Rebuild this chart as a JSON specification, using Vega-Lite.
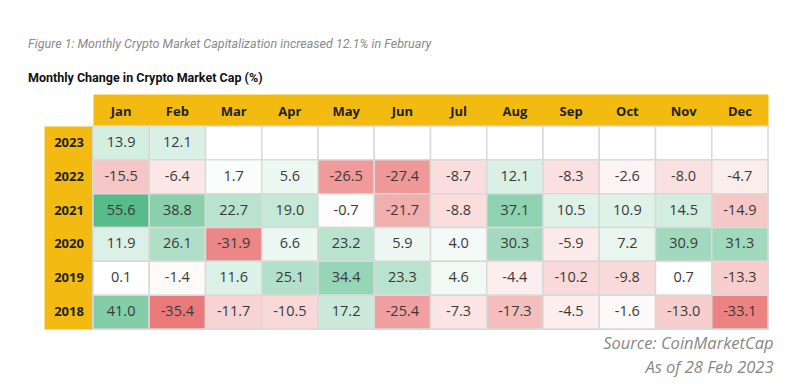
{
  "$schema": "https://vega.github.io/schema/vega-lite/v6.json",
  "width": 675,
  "height": 203,
  "autosize": {"type": "none"},
  "padding": {"left": 93, "top": 126, "right": 29, "bottom": 62},
  "background": "white",
  "config": {
    "view": {"stroke": null},
    "font": "Open Sans",
    "locale": {"number": {"decimal": ".", "thousands": ",", "grouping": [3], "currency": ["$", ""], "minus": "-"}}
  },
  "title": {
    "text": "Figure 1: Monthly Crypto Market Capitalization increased 12.1% in February",
    "subtitle": "Monthly Change in Crypto Market Cap (%)",
    "anchor": "start",
    "frame": "group",
    "dx": -65,
    "font": "Roboto",
    "fontSize": 12.5,
    "fontStyle": "italic",
    "fontWeight": "normal",
    "color": "#8a8a8a",
    "subtitleFont": "Roboto",
    "subtitleFontSize": 12.5,
    "subtitleFontWeight": "bold",
    "subtitleColor": "#111111",
    "subtitlePadding": 21,
    "offset": 21
  },
  "data": {
    "values": [
      {"year": "2023", "month": "Jan", "change": 13.9},
      {"year": "2023", "month": "Feb", "change": 12.1},
      {"year": "2023", "month": "Mar", "change": null},
      {"year": "2023", "month": "Apr", "change": null},
      {"year": "2023", "month": "May", "change": null},
      {"year": "2023", "month": "Jun", "change": null},
      {"year": "2023", "month": "Jul", "change": null},
      {"year": "2023", "month": "Aug", "change": null},
      {"year": "2023", "month": "Sep", "change": null},
      {"year": "2023", "month": "Oct", "change": null},
      {"year": "2023", "month": "Nov", "change": null},
      {"year": "2023", "month": "Dec", "change": null},
      {"year": "2022", "month": "Jan", "change": -15.5},
      {"year": "2022", "month": "Feb", "change": -6.4},
      {"year": "2022", "month": "Mar", "change": 1.7},
      {"year": "2022", "month": "Apr", "change": 5.6},
      {"year": "2022", "month": "May", "change": -26.5},
      {"year": "2022", "month": "Jun", "change": -27.4},
      {"year": "2022", "month": "Jul", "change": -8.7},
      {"year": "2022", "month": "Aug", "change": 12.1},
      {"year": "2022", "month": "Sep", "change": -8.3},
      {"year": "2022", "month": "Oct", "change": -2.6},
      {"year": "2022", "month": "Nov", "change": -8.0},
      {"year": "2022", "month": "Dec", "change": -4.7},
      {"year": "2021", "month": "Jan", "change": 55.6},
      {"year": "2021", "month": "Feb", "change": 38.8},
      {"year": "2021", "month": "Mar", "change": 22.7},
      {"year": "2021", "month": "Apr", "change": 19.0},
      {"year": "2021", "month": "May", "change": -0.7},
      {"year": "2021", "month": "Jun", "change": -21.7},
      {"year": "2021", "month": "Jul", "change": -8.8},
      {"year": "2021", "month": "Aug", "change": 37.1},
      {"year": "2021", "month": "Sep", "change": 10.5},
      {"year": "2021", "month": "Oct", "change": 10.9},
      {"year": "2021", "month": "Nov", "change": 14.5},
      {"year": "2021", "month": "Dec", "change": -14.9},
      {"year": "2020", "month": "Jan", "change": 11.9},
      {"year": "2020", "month": "Feb", "change": 26.1},
      {"year": "2020", "month": "Mar", "change": -31.9},
      {"year": "2020", "month": "Apr", "change": 6.6},
      {"year": "2020", "month": "May", "change": 23.2},
      {"year": "2020", "month": "Jun", "change": 5.9},
      {"year": "2020", "month": "Jul", "change": 4.0},
      {"year": "2020", "month": "Aug", "change": 30.3},
      {"year": "2020", "month": "Sep", "change": -5.9},
      {"year": "2020", "month": "Oct", "change": 7.2},
      {"year": "2020", "month": "Nov", "change": 30.9},
      {"year": "2020", "month": "Dec", "change": 31.3},
      {"year": "2019", "month": "Jan", "change": 0.1},
      {"year": "2019", "month": "Feb", "change": -1.4},
      {"year": "2019", "month": "Mar", "change": 11.6},
      {"year": "2019", "month": "Apr", "change": 25.1},
      {"year": "2019", "month": "May", "change": 34.4},
      {"year": "2019", "month": "Jun", "change": 23.3},
      {"year": "2019", "month": "Jul", "change": 4.6},
      {"year": "2019", "month": "Aug", "change": -4.4},
      {"year": "2019", "month": "Sep", "change": -10.2},
      {"year": "2019", "month": "Oct", "change": -9.8},
      {"year": "2019", "month": "Nov", "change": 0.7},
      {"year": "2019", "month": "Dec", "change": -13.3},
      {"year": "2018", "month": "Jan", "change": 41.0},
      {"year": "2018", "month": "Feb", "change": -35.4},
      {"year": "2018", "month": "Mar", "change": -11.7},
      {"year": "2018", "month": "Apr", "change": -10.5},
      {"year": "2018", "month": "May", "change": 17.2},
      {"year": "2018", "month": "Jun", "change": -25.4},
      {"year": "2018", "month": "Jul", "change": -7.3},
      {"year": "2018", "month": "Aug", "change": -17.3},
      {"year": "2018", "month": "Sep", "change": -4.5},
      {"year": "2018", "month": "Oct", "change": -1.6},
      {"year": "2018", "month": "Nov", "change": -13.0},
      {"year": "2018", "month": "Dec", "change": -33.1}
    ]
  },
  "layer": [
    {
      "mark": {"type": "rect", "fill": "#ffffff", "stroke": "#d9d9d9", "strokeWidth": 1.5},
      "encoding": {
        "x": {
          "field": "month", "type": "ordinal",
          "sort": ["Jan", "Feb", "Mar", "Apr", "May", "Jun", "Jul", "Aug", "Sep", "Oct", "Nov", "Dec"],
          "scale": {"paddingInner": 0, "paddingOuter": 0},
          "axis": {
            "orient": "top", "title": null, "domain": true, "domainColor": "#F3BA12",
            "domainWidth": 32, "offset": 16, "ticks": false, "tickSize": 0, "labels": false, "zindex": 0
          }
        },
        "y": {
          "field": "year", "type": "ordinal", "sort": "descending",
          "scale": {"paddingInner": 0, "paddingOuter": 0},
          "axis": {
            "orient": "left", "title": null, "domain": true, "domainColor": "#F3BA12",
            "domainWidth": 49, "offset": 24.5, "ticks": false, "tickSize": 0, "labels": false, "zindex": 0
          }
        }
      }
    },
    {
      "transform": [{"filter": "isValid(datum.change)"}],
      "mark": {"type": "rect", "stroke": "#d9d9d9", "strokeWidth": 1.5},
      "encoding": {
        "x": {
          "field": "month", "type": "ordinal",
          "sort": ["Jan", "Feb", "Mar", "Apr", "May", "Jun", "Jul", "Aug", "Sep", "Oct", "Nov", "Dec"],
          "axis": {
            "orient": "bottom", "domain": false, "ticks": false, "labels": false, "grid": false,
            "title": ["Source: CoinMarketCap", "As of 28 Feb 2023"],
            "titleFont": "Open Sans", "titleFontSize": 16.5, "titleFontStyle": "italic", "titleFontWeight": "normal",
            "titleColor": "#888888", "titleAlign": "right", "titleAnchor": "end",
            "titleX": 680, "titleY": 19, "titleBaseline": "alphabetic", "titleLineHeight": 24
          }
        },
        "y": {"field": "year", "type": "ordinal", "sort": "descending", "axis": null},
        "color": {
          "field": "change", "type": "quantitative", "legend": null,
          "scale": {"domain": [-35.4, 0, 55.6], "range": ["#EA7A7A", "#FFFFFF", "#57BB8A"], "interpolate": "rgb"}
        }
      }
    },
    {
      "transform": [{"filter": "isValid(datum.change)"}],
      "mark": {"type": "text", "fontSize": 14.5, "font": "Open Sans", "color": "#3a3a3a"},
      "encoding": {
        "x": {
          "field": "month", "type": "ordinal",
          "sort": ["Jan", "Feb", "Mar", "Apr", "May", "Jun", "Jul", "Aug", "Sep", "Oct", "Nov", "Dec"],
          "axis": {
            "orient": "top", "title": null, "domain": false, "ticks": false, "tickSize": 0, "grid": false,
            "offset": 0, "labelPadding": 15, "labelBaseline": "middle", "labelAngle": 0, "zindex": 1,
            "labelFont": "Open Sans", "labelFontSize": 13, "labelFontWeight": "bold", "labelColor": "#222222"
          }
        },
        "y": {
          "field": "year", "type": "ordinal", "sort": "descending",
          "axis": {
            "orient": "left", "title": null, "domain": false, "ticks": false, "tickSize": 0, "grid": false,
            "offset": 0, "labelPadding": 24.5, "labelAlign": "center", "labelBaseline": "middle", "zindex": 1,
            "labelFont": "Open Sans", "labelFontSize": 13, "labelFontWeight": "bold", "labelColor": "#222222"
          }
        },
        "text": {"field": "change", "type": "quantitative", "format": ".1f"}
      }
    }
  ],
  "resolve": {"axis": {"x": "independent", "y": "independent"}}
}
